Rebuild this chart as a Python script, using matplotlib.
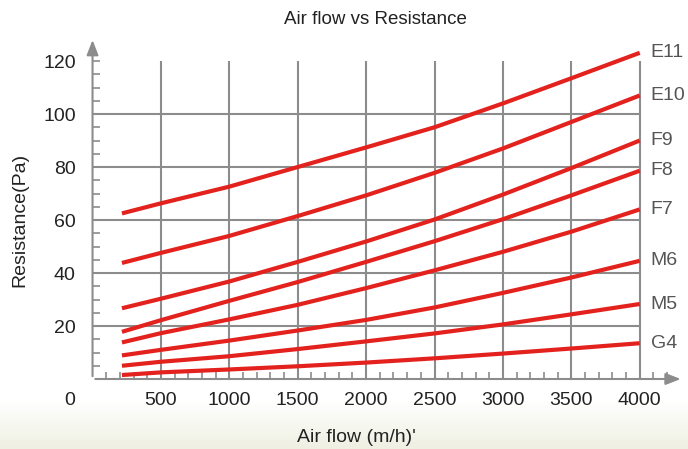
import matplotlib.pyplot as plt
import numpy as np

plt.rcParams['font.family'] = ['Liberation Sans', 'DejaVu Sans']

# air flow points where the curves were read (m3/h)
flujo = [215, 500, 1000, 1500, 2000, 2500, 3000, 3500, 4000]

# resistance per filter class (Pa)
curvas = {
    'E11': [62.5, 66.3, 72.6, 80.0, 87.4, 95.0, 104.0, 113.5, 123.1],
    'E10': [43.8, 47.6, 54.0, 61.5, 69.3, 77.8, 87.0, 97.0, 107.0],
    'F9':  [26.7, 30.3, 36.8, 44.2, 51.9, 60.2, 69.6, 79.6, 90.0],
    'F8':  [17.8, 22.2, 29.5, 36.6, 44.2, 52.0, 60.3, 69.3, 78.6],
    'F7':  [13.8, 17.3, 22.5, 28.0, 34.3, 41.0, 48.0, 55.6, 64.0],
    'M6':  [8.9, 11.0, 14.5, 18.3, 22.3, 27.0, 32.5, 38.3, 44.6],
    'M5':  [5.0, 6.5, 8.6, 11.3, 14.2, 17.2, 20.6, 24.4, 28.3],
    'G4':  [1.5, 2.5, 3.6, 4.8, 6.2, 7.8, 9.6, 11.5, 13.5],
}

x_ticks = [500, 1000, 1500, 2000, 2500, 3000, 3500, 4000]
y_ticks = [20, 40, 60, 80, 100, 120]

ROJO = '#e3221e'
GRIS = '#8c8c8c'

fig = plt.figure(figsize=(6.88, 4.49), dpi=100)

# fondo con degradado suave abajo
fondo = fig.add_axes([0, 0, 1, 1], zorder=-1)
grad = np.ones((449, 1, 3))
t = np.clip((np.arange(449) - 400) / 49.0, 0, 1)[:, None]
grad = grad * (1 - t[..., None]) + np.array([0.935, 0.94, 0.885]) * t[..., None]
fondo.imshow(grad, aspect='auto', extent=[0, 1, 0, 1])
fondo.axis('off')

ax = fig.add_axes([0.1345, 0.1559, 0.855, 0.7613])
ax.set_facecolor('none')
ax.set_xlim(0, 4300)
ax.set_ylim(0, 129)
for s in ax.spines.values():
    s.set_visible(False)

# grilla
ax.vlines(x_ticks, 0, 120, color=GRIS, lw=1.5, zorder=1)
ax.hlines(y_ticks[:-1], 0, 4000, color=GRIS, lw=1.5, zorder=1)

# ejes con flecha
ax.annotate('', xy=(4320, 0), xytext=(0, 0), annotation_clip=False,
            arrowprops=dict(arrowstyle='-|>,head_length=0.9,head_width=0.35', color=GRIS, lw=1.5))
ax.annotate('', xy=(0, 129), xytext=(0, 0), annotation_clip=False,
            arrowprops=dict(arrowstyle='-|>,head_length=0.9,head_width=0.35', color=GRIS, lw=1.5))

# ticks
ax.set_xticks(x_ticks)
ax.set_xticks(np.arange(100, 4300, 100), minor=True)
ax.set_yticks(y_ticks)
ax.set_yticks(np.arange(5, 121, 5), minor=True)
ax.tick_params(which='both', direction='in', color=GRIS, width=1.2, length=5)
ax.tick_params(axis='x', which='major', labelsize=14, pad=9, labelcolor='#222222')
ax.tick_params(axis='y', which='major', labelsize=14, pad=12, labelcolor='#222222')
ax.text(-165, -8, '0', ha='center', va='center', fontsize=14, color='#222222', clip_on=False)

# curvas
for nombre, vals in curvas.items():
    ax.plot(flujo, vals, color=ROJO, lw=3, solid_capstyle='butt', solid_joinstyle='round', zorder=3)
    ax.annotate(nombre, xy=(flujo[-1], vals[-1]), xytext=(8, 0), textcoords='offset points',
                ha='left', va='center', fontsize=14, color='#555555', annotation_clip=False)

fig.text(375 / 688, 1 - 20 / 449, 'Air flow vs Resistance', ha='center', va='center',
         fontsize=13.5, color='#222222')
fig.text(20 / 688, 1 - 220 / 449, 'Resistance(Pa)', ha='center', va='center',
         rotation=90, fontsize=14, color='#222222')
fig.text(356 / 688, 1 - 437 / 449, "Air flow (m/h)'", ha='center', va='center',
         fontsize=14, color='#222222')

fig.savefig('out.png', dpi=100)
